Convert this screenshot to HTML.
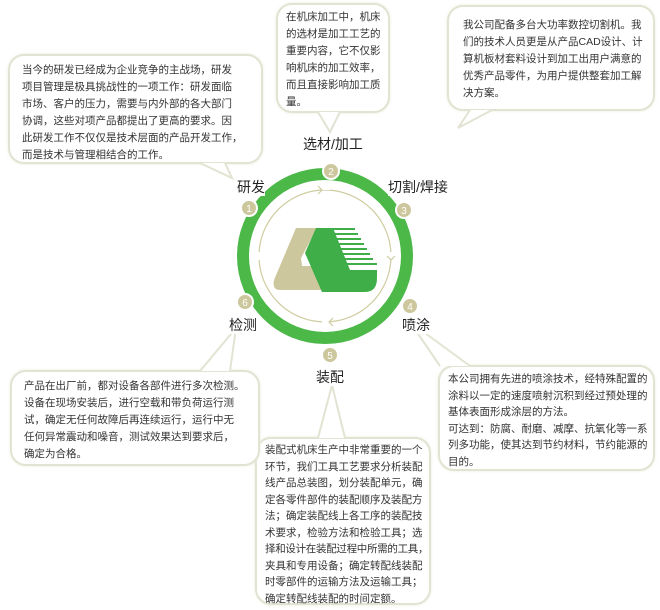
<!DOCTYPE html>
<html><head><meta charset="utf-8"><style>
body{margin:0;width:660px;height:610px;background:#fff;position:relative;overflow:hidden;font-family:"Liberation Sans","Noto Sans CJK SC",sans-serif;}
.b{position:absolute;border:2px solid #e3e3d3;border-radius:16px;background:#fff;box-shadow:0 0 3px #ecece0;font-size:10.5px;line-height:17px;color:#333;box-sizing:border-box;white-space:nowrap;}
.l{position:absolute;font-size:14px;color:#222;background:#fff;line-height:17px;}
svg{position:absolute;left:0;top:0;}
</style></head><body>
<svg width="660" height="610">
<circle cx="325" cy="256" r="82" fill="none" stroke="#4cb848" stroke-width="12"/>
<circle cx="325" cy="256" r="66" fill="none" stroke="#cfcca0" stroke-width="1.2"/>
<g fill="none" stroke="#fff" stroke-width="4">
<line x1="322" y1="188" x2="330" y2="188"/><line x1="391" y1="252" x2="391" y2="260"/><line x1="322" y1="322" x2="330" y2="322"/><line x1="259" y1="252" x2="259" y2="260"/>
</g>
<g fill="none" stroke="#cfcca0" stroke-width="1.2">
<polyline points="318,186 322,190 318,194"/><polyline points="387,256 391,260 395,256"/><polyline points="333,318 329,322 333,326"/>
</g>
<g fill="#cdc79e" stroke="#fff" stroke-width="2">
<circle cx="249" cy="208" r="8"/><circle cx="331" cy="171" r="8"/><circle cx="404" cy="210" r="8"/>
<circle cx="410" cy="306" r="8"/><circle cx="330" cy="355" r="8"/><circle cx="245" cy="302" r="8"/>
</g>
<g fill="#fff" font-size="10" text-anchor="middle" font-family="Liberation Sans">
<text x="249" y="212">1</text><text x="331" y="175">2</text><text x="404" y="214">3</text>
<text x="410" y="310">4</text><text x="330" y="359">5</text><text x="245" y="306">6</text>
</g>
<path d="M296,228 L317,228 L301,258 L302,266 L320,266 L324,290 L280,290 Q272,290 274,280 Z" fill="#cdc79e"/>
<path d="M316,228 L333,228 L350,270 L377,270 L377,278 Q377,292 365,292 L322,292 L305,253 Z" fill="#3fae49"/>
<g fill="#3fae49"><rect x="332" y="228" width="23" height="2"/><rect x="334" y="233" width="24" height="2"/><rect x="336" y="238" width="25" height="2"/><rect x="338" y="243" width="26" height="2"/><rect x="340" y="248" width="27" height="2"/><rect x="342" y="253" width="28" height="2"/><rect x="344" y="258" width="29" height="2"/><rect x="346" y="263" width="31" height="2"/></g>
</svg>
<div class="b" style="left:8px;top:54px;width:255px;height:110px;padding:6px 0 0 12px">当今的研发已经成为企业竞争的主战场，研发<br>项目管理是极具挑战性的一项工作：研发面临<br>市场、客户的压力，需要与内外部的各大部门<br>协调，这些对项产品都提出了更高的要求。因<br>此研发工作不仅仅是技术层面的产品开发工作，<br>而是技术与管理相结合的工作。</div>
<div class="b" style="left:276px;top:3px;width:114px;height:110px;padding:4px 0 0 8px">在机床加工中，机床<br>的选材是加工工艺的<br>重要内容，它不仅影<br>响机床的加工效率，<br>而且直接影响加工质<br>量。</div>
<div class="b" style="left:447px;top:5px;width:208px;height:106px;padding:10px 0 0 14px">我公司配备多台大功率数控切割机。我<br>们的技术人员更是从产品CAD设计、计<br>算机板材套料设计到加工出用户满意的<br>优秀产品零件，为用户提供整套加工解<br>决方案。</div>
<div class="b" style="left:438px;top:365px;width:217px;height:106px;padding:4px 0 0 8px;line-height:16.5px">本公司拥有先进的喷涂技术，经特殊配置的<br>涂料以一定的速度喷射沉积到经过预处理的<br>基体表面形成涂层的方法。<br>可达到：防腐、耐磨、减摩、抗氧化等一系<br>列多功能，使其达到节约材料，节约能源的<br>目的。</div>
<div class="b" style="left:255px;top:437px;width:176px;height:168px;padding:3px 0 0 8px;line-height:16.5px">装配式机床生产中非常重要的一个<br>环节，我们工具工艺要求分析装配<br>线产品总装图，划分装配单元，确<br>定各零件部件的装配顺序及装配方<br>法；确定装配线上各工序的装配技<br>术要求，检验方法和检验工具；选<br><span style="letter-spacing:-0.3px">择和设计在装配过程中所需的工具，</span><br>夹具和专用设备；确定转配线装配<br>时零部件的运输方法及运输工具；<br>确定转配线装配的时间定额。</div>
<div class="b" style="left:10px;top:370px;width:250px;height:96px;padding:6px 0 0 12px">产品在出厂前，都对设备各部件进行多次检测。<br>设备在现场安装后，进行空载和带负荷运行测<br>试，确定无任何故障后再连续运行，运行中无<br>任何异常震动和噪音，测试效果达到要求后，<br>确定为合格。</div>
<svg width="660" height="610" style="pointer-events:none">
<g fill="#fff" stroke="#e3e3d3" stroke-width="2">
<polyline points="200,163 232,178 225,163"/>
<polyline points="318,112 330,132 340,112"/>
<polyline points="470,110 458,128 492,110"/>
<polyline points="440,366 410,322 470,366"/>
<polyline points="318,438 332,385 345,438"/>
<polyline points="200,371 236,328 230,371"/>
</g>
</svg>
<div class="l" style="left:237px;top:179px">研发</div>
<div class="l" style="left:303px;top:136px">选材/加工</div>
<div class="l" style="left:388px;top:179px">切割/焊接</div>
<div class="l" style="left:402px;top:317px">喷涂</div>
<div class="l" style="left:316px;top:369px">装配</div>
<div class="l" style="left:229px;top:317px">检测</div>
</body></html>
